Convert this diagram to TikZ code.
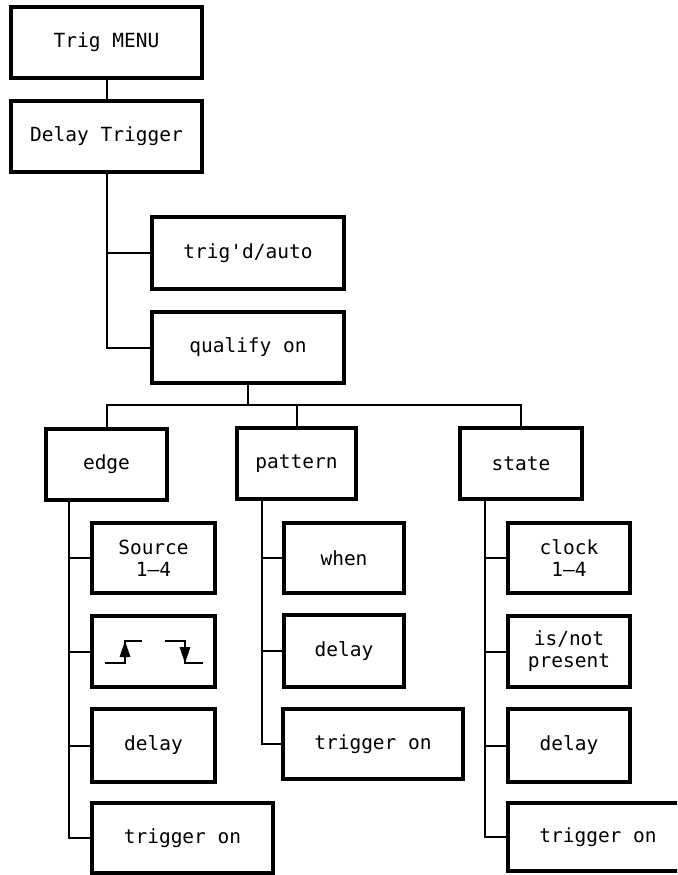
\documentclass[tikz,border=0pt]{standalone}
\usepackage{fontspec}
\newfontfamily\plotfont{DejaVu Sans Mono}
\begin{document}
\begin{tikzpicture}[x=1pt,y=-1pt,
  box/.style={draw,line width=3.4pt,inner sep=0pt,minimum height=71pt,
    font=\plotfont\fontsize{19.5}{22}\selectfont,align=center},
  conn/.style={line width=2pt}]
\useasboundingbox (0,0) rectangle (677,875);
\clip (0,0) rectangle (677,875);
% top
\node[box,minimum width=191pt] (menu) at (106.5,42.5) {Trig MENU};
\node[box,minimum width=191pt] (dtrig) at (106.5,136.5) {Delay Trigger};
\node[box,minimum width=192pt,minimum height=72pt] (trigd) at (248,253) {trig'd/auto};
\node[box,minimum width=192pt] (qual) at (248,347.5) {qualify on};
% level 2
\node[box,minimum width=121pt] (edge) at (106.5,464.5) {edge};
\node[box,minimum width=119pt] (pattern) at (296.5,463.5) {pattern};
\node[box,minimum width=122pt] (state) at (521,463.5) {state};
% edge children
\node[box,minimum width=123pt,minimum height=70pt] (src) at (153.5,558) {Source\\1–4};
\node[box,minimum width=123pt] (sym) at (153.5,651.5) {};
\node[box,minimum width=123pt,minimum height=73pt] (edelay) at (153.5,745.5) {delay};
\node[box,minimum width=181pt,minimum height=70pt] (etrig) at (182.5,838) {trigger on};
% pattern children
\node[box,minimum width=120pt,minimum height=70pt] (when) at (344,558) {when};
\node[box,minimum width=120pt,minimum height=72pt] (pdelay) at (344,651) {delay};
\node[box,minimum width=180pt,minimum height=70pt] (ptrig) at (373,744) {trigger on};
% state children
\node[box,minimum width=122pt,minimum height=70pt] (clock) at (569,558) {clock\\1–4};
\node[box,minimum width=122pt] (isnot) at (569,651.5) {is/not\\present};
\node[box,minimum width=122pt,minimum height=73pt] (sdelay) at (569,745.5) {delay};
\node[box,minimum width=180pt,minimum height=68pt] (strig) at (598,837) {trigger on};
% edge symbol
\draw[conn] (105,663) -- (125,663) -- (125,641) -- (142,641);
\fill (125,641) -- (119.5,657) -- (130.5,657) -- cycle;
\draw[conn] (165,641) -- (185,641) -- (185,663) -- (203,663);
\fill (185,663) -- (179.5,647) -- (190.5,647) -- cycle;
% connectors
\coordinate (bus) at (0,405);
\coordinate (ev) at (69,0);
\coordinate (pv) at (262,0);
\coordinate (sv) at (485,0);
\draw[conn] (menu.south) -- (dtrig.north);
\draw[conn] (dtrig.south) |- (trigd.west);
\draw[conn] (dtrig.south) |- (qual.west);
\draw[conn] (qual.south) -- (qual.south |- bus);
\draw[conn] (edge.north) |- (state.north |- bus) -- (state.north);
\draw[conn] (pattern.north) -- (pattern.north |- bus);
\draw[conn] (ev |- edge.south) |- (src.west);
\draw[conn] (ev |- sym.west) -- (sym.west);
\draw[conn] (ev |- edelay.west) -- (edelay.west);
\draw[conn] (ev |- src.west) |- (etrig.west);
\draw[conn] (pv |- pattern.south) |- (when.west);
\draw[conn] (pv |- pdelay.west) -- (pdelay.west);
\draw[conn] (pv |- when.west) |- (ptrig.west);
\draw[conn] (sv |- state.south) |- (clock.west);
\draw[conn] (sv |- isnot.west) -- (isnot.west);
\draw[conn] (sv |- sdelay.west) -- (sdelay.west);
\draw[conn] (sv |- clock.west) |- (strig.west);
\end{tikzpicture}
\end{document}
